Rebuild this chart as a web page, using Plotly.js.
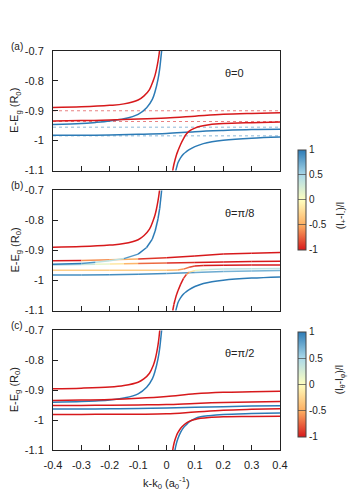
<!DOCTYPE html>
<html>
<head>
<meta charset="utf-8">
<script src="https://cdn.plot.ly/plotly-3.0.1.min.js"></script>
<style>
  body { margin: 0; background: #fff; }
  #chart { width: 350px; height: 500px; }
</style>
</head>
<body>
<div id="chart"></div>
<script>
// k values for the shared curves
var kRedUp = [-0.4, -0.3, -0.2, -0.15, -0.1, -0.08, -0.06, -0.047, -0.04, -0.035, -0.03, -0.026, -0.022];
var kBlueUp = [-0.4, -0.3, -0.25, -0.2, -0.15, -0.1, -0.07, -0.05, -0.04, -0.03, -0.024, -0.02, -0.015];
var kFlat = [-0.4, -0.3, -0.2, -0.1, 0, 0.1, 0.2, 0.3, 0.4];
var kRedLow = [0.018, 0.022, 0.026, 0.03, 0.035, 0.04, 0.05, 0.06, 0.07, 0.08, 0.1, 0.12, 0.15, 0.2, 0.3, 0.4];
var kBlueLow = [0.03, 0.033, 0.037, 0.04, 0.045, 0.05, 0.06, 0.07, 0.08, 0.1, 0.13, 0.16, 0.2, 0.3, 0.4];
var kDot = [-0.4, 0.4];

// panel (a), theta = 0
var eRedUpA = [-0.889, -0.887, -0.882, -0.877, -0.864, -0.851, -0.829, -0.80, -0.78, -0.76, -0.735, -0.71, -0.68];
var eBlueUpA = [-0.946, -0.943, -0.939, -0.934, -0.927, -0.912, -0.89, -0.862, -0.835, -0.795, -0.76, -0.725, -0.68];
var eRed2A = [-0.934, -0.933, -0.931, -0.928, -0.924, -0.918, -0.912, -0.909, -0.907];
var eBlue2A = [-0.982, -0.982, -0.981, -0.979, -0.976, -0.970, -0.966, -0.963, -0.962];
var eRedLowA = [-1.13, -1.1, -1.08, -1.065, -1.048, -1.035, -1.012, -0.993, -0.978, -0.968, -0.958, -0.952, -0.947, -0.943, -0.940, -0.938];
var eBlueLowA = [-1.13, -1.1, -1.085, -1.075, -1.065, -1.057, -1.045, -1.037, -1.03, -1.02, -1.01, -1.004, -0.999, -0.992, -0.988];
var eDotRed = [-0.900, -0.936];
var eDotBlue = [-0.955, -0.984];

// panel (b), theta = pi/8 (colour values follow the colour bar)
var cBlueUpB = [1, 1, 0.7, 0.1, 0.7, 1, 1, 1, 1, 1, 1, 1, 1];
var cRed2B = [-1, -1, -0.2, -0.8, -1, -1, -1, -1, -1];
var kMixB = [-0.4, -0.3, -0.25, -0.2, -0.15, -0.1, 0, 0.1, 0.2, 0.3, 0.4];
var eMixB = [-0.948, -0.947, -0.946, -0.945, -0.944, -0.943, -0.942, -0.940, -0.938, -0.937, -0.936];
var cMixB = [0.5, 0.4, 0.25, 0, -0.3, -0.6, -0.85, -1, -1, -1, -1];
var kOrangeB = [-0.4, -0.2, 0, 0.04, 0.06, 0.08, 0.1, 0.13, 0.2, 0.3, 0.4];
var eOrangeB = [-0.966, -0.966, -0.966, -0.965, -0.962, -0.956, -0.952, -0.950, -0.949, -0.948, -0.948];
var cOrangeB = [-0.35, -0.25, -0.35, -0.5, -0.6, -0.8, -0.9, -1, -1, -1, -1];
var eRedLowB = [-1.13, -1.1, -1.08, -1.065, -1.048, -1.035, -1.012, -0.993, -0.98, -0.972, -0.967, -0.965, -0.963, -0.962, -0.961, -0.960];
var cRedLowB = [-1, -1, -1, -1, -1, -1, -1, -1, -0.8, -0.4, 0, 0.2, 0.3, 0.4, 0.4, 0.4];
var eBlue2B = [-0.982, -0.982, -0.981, -0.979, -0.977, -0.973, -0.970, -0.968, -0.967];
var cBlue2B = [0.9, 0.9, 0.9, 0.9, 0.9, 0.8, 0.7, 0.7, 0.7];

// panel (c), theta = pi/2
var eRedUpC = [-0.895, -0.893, -0.889, -0.884, -0.873, -0.862, -0.843, -0.818, -0.797, -0.776, -0.749, -0.72, -0.68];
var eBlueUpC = [-0.940, -0.938, -0.936, -0.933, -0.926, -0.912, -0.89, -0.862, -0.835, -0.795, -0.76, -0.725, -0.68];
var eRed2C = [-0.934, -0.933, -0.931, -0.927, -0.921, -0.912, -0.907, -0.905, -0.903];
var eRed3C = [-0.951, -0.951, -0.950, -0.949, -0.948, -0.944, -0.941, -0.939, -0.938];
var eBlueMidC = [-0.963, -0.963, -0.962, -0.961, -0.959, -0.957, -0.955, -0.953, -0.952];
var eRed4C = [-0.981, -0.981, -0.980, -0.980, -0.979, -0.973, -0.967, -0.964, -0.962];
var eRedLowC = [-1.13, -1.1, -1.08, -1.066, -1.052, -1.042, -1.027, -1.017, -1.01, -1.004, -0.998, -0.994, -0.991, -0.989, -0.988, -0.987];
var kBlueLowC = [0.026, 0.03, 0.035, 0.04, 0.05, 0.06, 0.07, 0.08, 0.1, 0.12, 0.15, 0.2, 0.3, 0.4];
var eBlueLowC = [-1.13, -1.1, -1.078, -1.062, -1.04, -1.025, -1.015, -1.006, -0.995, -0.989, -0.985, -0.981, -0.978, -0.976];

var xTicks = [-0.4, -0.3, -0.2, -0.1, 0, 0.1, 0.2, 0.3, 0.4];
var xTickText = ["-0.4", "-0.3", "-0.2", "-0.1", "0", "0.1", "0.2", "0.3", "0.4"];
var yTicks = [-1.1, -1, -0.9, -0.8, -0.7];
var yTickText = ["-1.1", "-1", "-0.9", "-0.8", "-0.7"];
var barTicks = [-1, -0.5, 0, 0.5, 1];
var barTickText = ["-1", "-0.5", "0", "0.5", "1"];

var RED = "#d7191c";
var BLUE = "#2c7bb6";
var scale = [[0, "#d7191c"], [0.25, "#fdae61"], [0.5, "#ffffbf"], [0.75, "#abd9e9"], [1, "#2c7bb6"]];
var FONT = "Liberation Sans, Arial, sans-serif";

// turns a colour bar value (-1..1) into an rgb string
function colorAt(v) {
  var t = (v + 1) / 2;
  for (var i = 1; i < scale.length; i++) {
    if (t <= scale[i][0]) {
      var a = scale[i - 1], b = scale[i];
      var f = (t - a[0]) / (b[0] - a[0]);
      var ca = hex(a[1]), cb = hex(b[1]);
      return "rgb(" + [0, 1, 2].map(function (j) { return Math.round(ca[j] + (cb[j] - ca[j]) * f); }).join(",") + ")";
    }
  }
  return scale[scale.length - 1][1];
}
function hex(h) {
  return [parseInt(h.substr(1, 2), 16), parseInt(h.substr(3, 2), 16), parseInt(h.substr(5, 2), 16)];
}

var data = [];

// adds one curve; a colour array means the curve is split into coloured pieces
function curve(n, k, e, col, dash) {
  if (Array.isArray(col)) {
    for (var i = 0; i < k.length - 1; i++) {
      data.push({
        x: [k[i], k[i + 1]], y: [e[i], e[i + 1]], xaxis: "x" + n, yaxis: "y" + n,
        mode: "lines", line: { color: colorAt((col[i] + col[i + 1]) / 2), width: 1.5 }
      });
    }
  } else {
    data.push({
      x: k, y: e, xaxis: "x" + n, yaxis: "y" + n, mode: "lines",
      line: { color: col, width: dash ? 1 : 1.5, dash: dash || "solid", shape: "spline", smoothing: 1 },
      opacity: dash ? 0.55 : 1
    });
  }
}

// (a)
for (var i = 0; i < eDotRed.length; i++) curve(1, kDot, [eDotRed[i], eDotRed[i]], RED, "dot");
for (var i = 0; i < eDotBlue.length; i++) curve(1, kDot, [eDotBlue[i], eDotBlue[i]], BLUE, "dot");
curve(1, kRedUp, eRedUpA, RED);
curve(1, kBlueUp, eBlueUpA, BLUE);
curve(1, kFlat, eRed2A, RED);
curve(1, kFlat, eBlue2A, BLUE);
curve(1, kRedLow, eRedLowA, RED);
curve(1, kBlueLow, eBlueLowA, BLUE);

// (b)
curve(2, kRedUp, eRedUpA, RED);
curve(2, kFlat, eBlue2B, cBlue2B);
curve(2, kOrangeB, eOrangeB, cOrangeB);
curve(2, kMixB, eMixB, cMixB);
curve(2, kFlat, eRed2A, cRed2B);
curve(2, kBlueUp, eBlueUpA, cBlueUpB);
curve(2, kRedLow, eRedLowB, cRedLowB);
curve(2, kBlueLow, eBlueLowA, BLUE);

// (c)
curve(3, kRedUp, eRedUpC, RED);
curve(3, kBlueUp, eBlueUpC, BLUE);
curve(3, kFlat, eRed2C, RED);
curve(3, kFlat, eRed3C, RED);
curve(3, kFlat, eBlueMidC, BLUE);
curve(3, kFlat, eRed4C, RED);
curve(3, kBlueLowC, eBlueLowC, BLUE);
curve(3, kRedLow, eRedLowC, RED);

// hidden points that carry the two colour bars
function bar(n, yc, len) {
  data.push({
    x: [-1], y: [-1], xaxis: "x" + n, yaxis: "y" + n, mode: "markers",
    marker: {
      color: [0], colorscale: scale, cmin: -1, cmax: 1, showscale: true,
      colorbar: {
        x: 1.079, xanchor: "left", xpad: 0, y: yc, yanchor: "middle", ypad: 0,
        len: len, lenmode: "pixels", thickness: 8, thicknessmode: "pixels",
        outlinecolor: "#444", outlinewidth: 1,
        tickvals: barTicks, ticktext: barTickText, ticks: "inside", ticklen: 8,
        tickcolor: "rgba(70,70,70,0.7)", tickfont: { family: FONT, size: 10, color: "#222" }
      }
    }
  });
}
bar(1, 0.6266, 100);
bar(3, 0.1642, 105);

function xax() {
  return {
    range: [-0.4, 0.4], tickvals: xTicks, ticktext: xTickText,
    ticks: "inside", ticklen: 5, tickcolor: "#222", showline: true, mirror: true,
    linecolor: "#222", linewidth: 1, showgrid: false, zeroline: false,
    tickfont: { family: FONT, size: 11, color: "#222" }, ticklabelstandoff: 5
  };
}
function yax(domain, anchor) {
  return {
    domain: domain, anchor: anchor, range: [-1.1, -0.7], tickvals: yTicks, ticktext: yTickText,
    ticks: "inside", ticklen: 5, tickcolor: "#222", showline: true, mirror: true,
    linecolor: "#222", linewidth: 1, showgrid: false, zeroline: false,
    tickfont: { family: FONT, size: 11, color: "#222" }, ticklabelstandoff: 6
  };
}

var layout = {
  width: 350, height: 500,
  margin: { l: 53, r: 70, t: 51, b: 50 },
  paper_bgcolor: "#fff", plot_bgcolor: "#fff",
  showlegend: false, hovermode: false,
  font: { family: FONT, size: 11, color: "#222" },
  xaxis: Object.assign(xax(), { anchor: "y", showticklabels: false }),
  xaxis2: Object.assign(xax(), { anchor: "y2", showticklabels: false }),
  xaxis3: Object.assign(xax(), { anchor: "y3", showticklabels: true }),
  yaxis: yax([0.7005, 1], "x"),
  yaxis2: yax([0.3496, 0.6504], "x2"),
  yaxis3: yax([0, 0.2995], "x3"),
  annotations: []
};

function note(o) {
  o.showarrow = false;
  o.xanchor = o.xanchor || "center";
  o.yanchor = "middle";
  layout.annotations.push(o);
}

var yTitleY = [0.85, 0.5, 0.15];
var panelY = [1.0125, 0.664, 0.313];
var panelName = ["(a)", "(b)", "(c)"];
var thetaText = ["θ=0", "θ=π/8", "θ=π/2"];
for (var p = 0; p < 3; p++) {
  note({
    xref: "paper", yref: "paper", x: -0.167, y: yTitleY[p], textangle: -90,
    text: "E-E<sub>g</sub> (R<sub>0</sub>)", font: { family: FONT, size: 11, color: "#222" }
  });
  note({
    xref: "paper", yref: "paper", x: -0.159, y: panelY[p],
    text: panelName[p], font: { family: FONT, size: 10, color: "#222" }
  });
  note({
    xref: "x" + (p + 1), yref: "y" + (p + 1), x: 0.198, y: -0.775, xanchor: "left",
    text: thetaText[p], font: { family: FONT, size: 11, color: "#222" }
  });
}
note({
  xref: "paper", yref: "paper", x: 0.5, y: -0.083,
  text: "k-k<sub>0</sub> (a<sub>0</sub><sup>-1</sup>)", font: { family: FONT, size: 11, color: "#222" }
});
note({
  xref: "paper", yref: "paper", x: 1.27, y: 0.589, textangle: -90,
  text: "(I<sub>+</sub>-I<sub>-</sub>)/I", font: { family: FONT, size: 10, color: "#222" }
});
note({
  xref: "paper", yref: "paper", x: 1.27, y: 0.178, textangle: -90,
  text: "(I<sub>θ</sub>-I<sub>φ</sub>)/I", font: { family: FONT, size: 10, color: "#222" }
});

Plotly.newPlot("chart", data, layout, { staticPlot: true });
</script>
</body>
</html>
